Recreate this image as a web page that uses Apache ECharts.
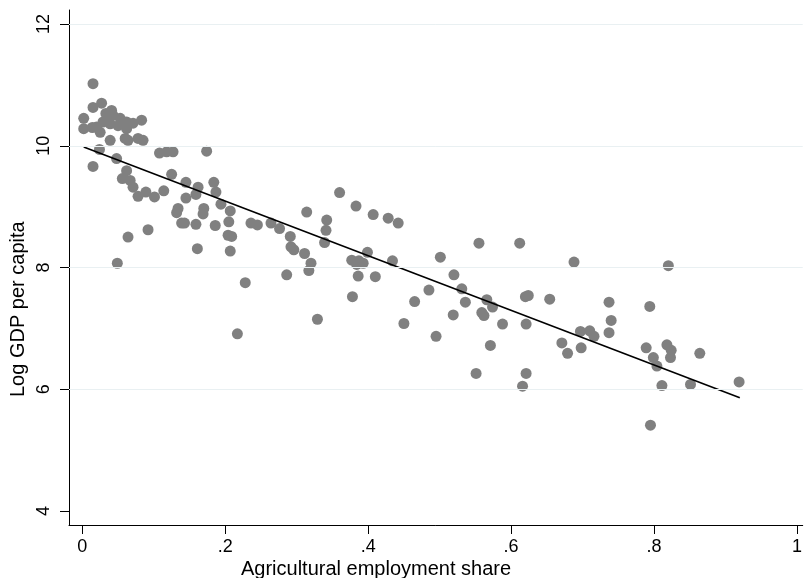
<!DOCTYPE html>
<html>
<head>
<meta charset="utf-8">
<script src="https://cdn.jsdelivr.net/npm/echarts@6.0.0/dist/echarts.min.js"></script>
<style>
  html, body { margin: 0; padding: 0; background: #fff; }
  #chart { width: 805px; height: 578px; }
</style>
</head>
<body>
<div id="chart"></div>
<script>
// agricultural employment share (x) and log GDP per capita (y)
const agShare = [
  0.015, 0.015, 0.027, 0.002, 0.002, 0.041, 0.043, 0.020, 0.025, 0.039,
  0.050, 0.062, 0.071, 0.083, 0.039, 0.064, 0.078, 0.085, 0.024, 0.015,
  0.048, 0.108, 0.118, 0.127, 0.062, 0.056, 0.067, 0.071, 0.078, 0.089,
  0.101, 0.114, 0.125, 0.145, 0.162, 0.145, 0.159, 0.134, 0.132, 0.139,
  0.143, 0.159, 0.092, 0.064, 0.161, 0.049, 0.029, 0.036, 0.033, 0.062,
  0.014, 0.060, 0.053,
  0.174, 0.184, 0.187, 0.194, 0.207, 0.170, 0.169, 0.186, 0.205, 0.204,
  0.209, 0.236, 0.245, 0.264, 0.276, 0.291, 0.292, 0.296, 0.311, 0.314,
  0.342, 0.341, 0.339, 0.207, 0.320, 0.317, 0.286, 0.228, 0.329, 0.217,
  0.360, 0.383, 0.407, 0.428, 0.442, 0.399, 0.377, 0.387, 0.393, 0.384,
  0.434, 0.386, 0.410, 0.378, 0.465, 0.485, 0.501, 0.520, 0.519, 0.450,
  0.495,
  0.555, 0.612, 0.688, 0.531, 0.536, 0.566, 0.559, 0.562, 0.574, 0.588,
  0.620, 0.624, 0.654, 0.621, 0.571, 0.671, 0.679, 0.698, 0.697, 0.710,
  0.716, 0.551, 0.621, 0.616,
  0.820, 0.737, 0.794, 0.740, 0.737, 0.789, 0.818, 0.824, 0.823, 0.864,
  0.799, 0.804, 0.811, 0.851, 0.919, 0.795
];
const logGdp = [
  11.02, 10.63, 10.70, 10.45, 10.28, 10.58, 10.50, 10.31, 10.22, 10.36,
  10.33, 10.39, 10.37, 10.42, 10.09, 10.09, 10.12, 10.09, 9.94, 9.66,
  9.79, 9.88, 9.90, 9.90, 9.59, 9.46, 9.43, 9.32, 9.17, 9.24,
  9.16, 9.26, 9.53, 9.40, 9.32, 9.14, 9.20, 8.97, 8.90, 8.73,
  8.73, 8.71, 8.62, 8.50, 8.31, 8.07, 10.39, 10.42, 10.53, 10.28,
  10.30, 10.12, 10.45,
  9.91, 9.40, 9.24, 9.04, 8.93, 8.97, 8.88, 8.69, 8.75, 8.53,
  8.51, 8.73, 8.70, 8.73, 8.64, 8.51, 8.34, 8.29, 8.23, 8.91,
  8.78, 8.61, 8.41, 8.27, 8.07, 7.95, 7.88, 7.75, 7.15, 6.91,
  9.23, 9.01, 8.87, 8.81, 8.73, 8.25, 8.12, 8.11, 8.07, 8.05,
  8.11, 7.86, 7.85, 7.52, 7.44, 7.63, 8.17, 7.88, 7.22, 7.08,
  6.87,
  8.40, 8.40, 8.09, 7.65, 7.43, 7.47, 7.26, 7.21, 7.35, 7.07,
  7.52, 7.54, 7.48, 7.07, 6.72, 6.76, 6.59, 6.68, 6.95, 6.96,
  6.87, 6.26, 6.26, 6.05,
  8.03, 7.43, 7.36, 7.13, 6.93, 6.68, 6.73, 6.64, 6.52, 6.59,
  6.52, 6.38, 6.06, 6.08, 6.12, 5.41
];

// fitted line end points
const fitX = [0.002, 0.920];
const fitY = [9.98, 5.86];

const xTicks = [0, 0.2, 0.4, 0.6, 0.8, 1];
const xTickLabels = ['0', '.2', '.4', '.6', '.8', '1'];
const yTicks = [4, 6, 8, 10, 12];
const gridValues = [6, 8, 10, 12];

const FONT = 'Arial, "Liberation Sans", Helvetica, sans-serif';

const points = agShare.map((x, i) => [x, logGdp[i]]);
const fitLine = fitX.map((x, i) => [x, fitY[i]]);

const chart = echarts.init(document.getElementById('chart'), null, { renderer: 'canvas' });

chart.setOption({
  animation: false,
  backgroundColor: '#ffffff',
  grid: { left: 69, right: 0, top: 10, bottom: 53, containLabel: false },
  xAxis: {
    type: 'value',
    min: -0.0186,
    max: 1.008,
    axisLine: { show: true, onZero: false, lineStyle: { color: '#000', width: 1 } },
    axisTick: { show: true, length: 9, customValues: xTicks, lineStyle: { color: '#000', width: 1 } },
    axisLabel: {
      customValues: xTicks,
      margin: 13,
      color: '#000',
      fontSize: 18,
      fontFamily: FONT,
      formatter: v => {
        const i = xTicks.findIndex(t => Math.abs(t - v) < 1e-9);
        return i >= 0 ? xTickLabels[i] : '';
      }
    },
    splitLine: { show: false }
  },
  yAxis: {
    type: 'value',
    min: 3.77,
    max: 12.23,
    axisLine: { show: true, onZero: false, lineStyle: { color: '#000', width: 1 } },
    axisTick: { show: true, length: 9, customValues: yTicks, lineStyle: { color: '#000', width: 1 } },
    axisLabel: {
      customValues: yTicks,
      rotate: 90,
      margin: 16,
      color: '#000',
      fontSize: 18,
      fontFamily: FONT
    },
    splitLine: { show: false }
  },
  graphic: [
    {
      type: 'text',
      x: 376,
      y: 569,
      style: {
        text: 'Agricultural employment share',
        fill: '#000',
        font: '20px ' + FONT,
        textAlign: 'center',
        textVerticalAlign: 'middle'
      }
    },
    {
      type: 'text',
      x: 18,
      y: 397,
      rotation: Math.PI / 2,
      style: {
        text: 'Log GDP per capita',
        fill: '#000',
        font: '20px ' + FONT,
        textAlign: 'left',
        textVerticalAlign: 'middle'
      }
    }
  ],
  series: [
    {
      type: 'scatter',
      data: points,
      symbol: 'circle',
      symbolSize: 11,
      itemStyle: { color: '#808080', opacity: 1 },
      z: 3,
      markLine: {
        silent: true,
        symbol: 'none',
        label: { show: false },
        lineStyle: { color: '#e9f0f2', width: 1, type: 'solid' },
        data: gridValues.map(v => ({ yAxis: v }))
      }
    },
    {
      type: 'line',
      data: fitLine,
      symbol: 'none',
      lineStyle: { color: '#000', width: 1.6 },
      z: 4
    }
  ]
});
</script>
</body>
</html>
